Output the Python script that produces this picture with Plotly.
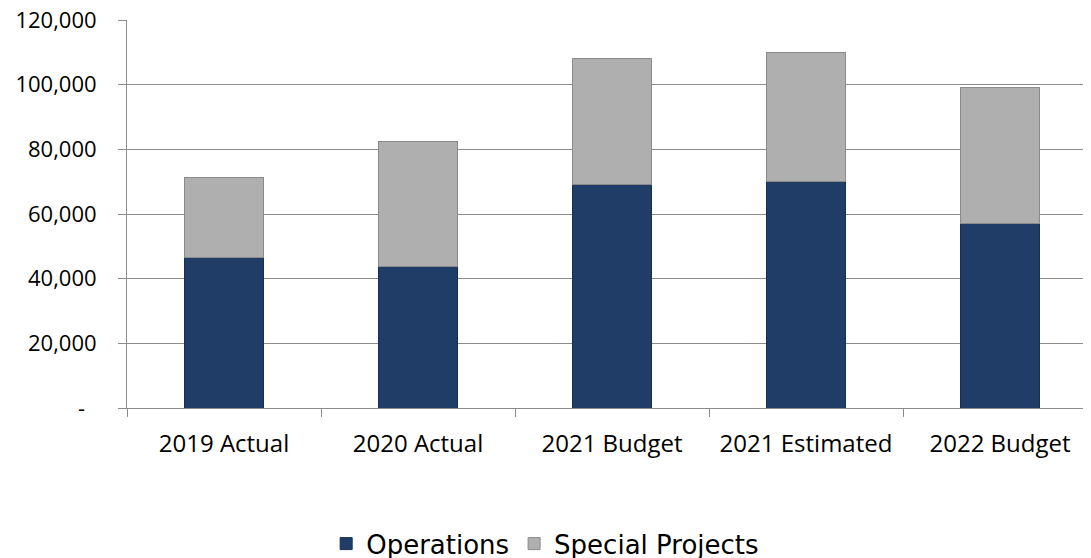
import plotly.graph_objects as go

categories = ["2019 Actual", "2020 Actual", "2021 Budget", "2021 Estimated", "2022 Budget"]
operations = [46400, 43800, 69000, 70000, 57000]
special_projects = [24900, 38600, 39200, 40000, 42200]
y_tickvals = [0, 20000, 40000, 60000, 80000, 100000, 120000]
y_ticktext = ["-\u00a0\u00a0", "20,000", "40,000", "60,000", "80,000", "100,000", "120,000"]

fig = go.Figure()
fig.add_trace(go.Bar(
    name="Operations", x=categories, y=operations,
    marker=dict(color="#1F3D66", line=dict(color="#16304F", width=1)),
))
fig.add_trace(go.Bar(
    name="Special Projects", x=categories, y=special_projects,
    marker=dict(color="#AFAFAF", line=dict(color="#8A8A8A", width=1)),
))

grid = "#8C8C8C"
fig.update_layout(
    width=1083, height=550,
    barmode="stack", bargap=0.59,
    plot_bgcolor="white", paper_bgcolor="white",
    margin=dict(l=119, r=0, t=12, b=150),
    font=dict(family="Open Sans", color="black"),
    legend=dict(
        orientation="h", xref="container", yref="container",
        x=0.496, xanchor="center", y=0.026, yanchor="middle",
        font=dict(family="DejaVu Sans", size=26, color="black"),
        traceorder="normal", itemwidth=30,
    ),
    showlegend=True,
)
fig.update_xaxes(
    range=[-0.5, 4.469], automargin=False,
    showline=True, linecolor=grid, linewidth=1,
    ticks="outside", ticklen=8, tickcolor=grid,
    tickson="boundaries",
    tickfont=dict(family="Open Sans", size=24, color="black"),
    ticklabelstandoff=14, ticklabeloverflow="allow",
    showgrid=False,
)
fig.update_yaxes(
    range=[0, 120000], automargin=False,
    tickvals=y_tickvals, ticktext=y_ticktext,
    showline=True, linecolor=grid, linewidth=1,
    ticks="outside", ticklen=8, tickcolor=grid,
    showgrid=True, gridcolor=grid, gridwidth=1,
    tickfont=dict(family="Open Sans", size=22, color="black"),
    ticklabelstandoff=17, ticklabeloverflow="allow",
    zeroline=False,
)

fig.write_html("out.html")
